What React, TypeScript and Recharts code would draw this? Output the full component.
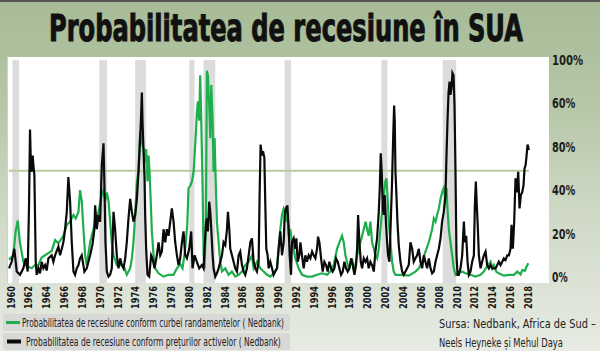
import React from "react";
import { LineChart, Line, XAxis, YAxis, ReferenceArea, ReferenceLine } from "recharts";

const titleText = "Probabilitatea de recesiune în SUA";

const yieldCurveYears = [
  1959.78, 1960.26, 1960.52, 1960.75, 1961.0, 1961.38, 1961.76, 1962.32, 1962.69, 1963.07,
  1963.44, 1963.82, 1964.19, 1964.56, 1964.94, 1965.31, 1965.87, 1966.25, 1966.62, 1967.0,
  1967.26, 1967.56, 1967.74, 1967.93, 1968.12, 1968.31, 1968.49, 1968.87, 1969.24, 1969.43,
  1969.8, 1970.18, 1970.37, 1970.55, 1970.74, 1970.93, 1971.11, 1971.3, 1971.49, 1971.86,
  1972.24, 1972.61, 1972.98, 1973.36, 1973.55, 1973.73, 1973.92, 1974.11, 1974.29, 1974.48,
  1974.67, 1974.85, 1975.04, 1975.15, 1975.3, 1975.42, 1975.53, 1975.68, 1975.79, 1975.98,
  1976.16, 1976.54, 1977.1, 1977.66, 1978.22, 1978.6, 1978.97, 1979.23, 1979.5, 1979.76,
  1979.9, 1980.09, 1980.28, 1980.47, 1980.58, 1980.73, 1980.84, 1980.95, 1981.1, 1981.21,
  1981.33, 1981.48, 1981.59, 1981.7, 1981.85, 1981.96, 1982.07, 1982.22, 1982.34, 1982.45,
  1982.6, 1982.71, 1982.82, 1982.97, 1983.08, 1983.27, 1983.46, 1983.65, 1984.02, 1984.39,
  1984.77, 1985.14, 1985.52, 1985.89, 1986.26, 1986.64, 1987.01, 1987.2, 1987.39, 1987.57,
  1987.95, 1988.32, 1988.7, 1989.07, 1989.44, 1989.82, 1990.0, 1990.19, 1990.38, 1990.57,
  1990.75, 1990.86, 1990.98, 1991.13, 1991.31, 1991.5, 1991.69, 1991.87, 1992.25, 1992.62,
  1993.18, 1993.75, 1994.31, 1994.87, 1995.43, 1995.8, 1996.18, 1996.55, 1996.81, 1997.11,
  1997.3, 1997.49, 1997.67, 1997.86, 1998.05, 1998.23, 1998.42, 1998.61, 1998.8, 1998.98,
  1999.17, 1999.36, 1999.54, 1999.75, 1999.92, 2000.1, 2000.29, 2000.48, 2000.67, 2000.85,
  2001.04, 2001.23, 2001.41, 2001.6, 2001.79, 2001.97, 2002.09, 2002.2, 2002.35, 2002.54,
  2002.72, 2002.91, 2003.1, 2003.84, 2004.59, 2005.34, 2005.72, 2006.09, 2006.46, 2006.84,
  2007.21, 2007.4, 2007.59, 2007.77, 2007.96, 2008.15, 2008.33, 2008.52, 2008.71, 2008.82,
  2008.93, 2009.08, 2009.27, 2009.46, 2009.64, 2009.83, 2010.58, 2010.95, 2011.51, 2012.07,
  2012.64, 2013.01, 2013.38, 2013.76, 2013.95, 2014.13, 2014.39, 2014.69, 2015.25, 2015.82,
  2016.38, 2016.75, 2017.13, 2017.31, 2017.61, 2017.8, 2017.99,
];
const yieldCurveValues = [
  8, 10, 21, 26, 16, 7, 5, 4, 5.5, 5.5,
  9, 10, 11, 12, 17, 15.5, 19, 24, 25.5, 28.6,
  27, 30, 40, 35, 22, 10, 5.5, 16, 22, 25.5,
  30, 38, 40, 35, 39, 35, 25.5, 16, 10, 5.5,
  5.5, 5.5, 1, 4, 8.6, 16, 28.6, 44, 48.5, 67,
  62, 59, 53, 59, 44, 56, 48.5, 33, 21, 10,
  4, 1.7, 0.2, 1, 1, 4, 6, 4, 12, 24,
  41, 42, 44, 48.5, 56, 67, 76, 81, 72, 93,
  72, 41, 10, 4, 25.5, 95, 93, 79, 64, 88.5,
  72, 48.5, 64, 41, 25.5, 16, 7, 2.5, 4, 1,
  2.5, 0.2, 1, 2.5, 5.5, 7, 10, 4, 5.5, 7,
  4, 2.5, 1, 0.2, 1.7, 4, 13, 22, 28.6, 31.6,
  30, 25.5, 30, 19, 22, 16, 13, 8.6, 4, 1,
  0.2, 0.2, 1, 1.7, 1, 2.5, 5.5, 13, 16, 19,
  16, 10, 7, 4, 5.5, 8.6, 4, 5.5, 10, 13,
  16, 19, 22, 25.5, 22, 19, 25.5, 16, 13, 10,
  8.6, 13, 22, 30, 38, 44, 45.5, 38, 25.5, 16,
  7, 2.5, 1, 1, 0.6, 2.5, 4, 7, 11.7, 16,
  22, 27, 25.5, 28.6, 31.6, 36, 39, 41, 36, 41,
  31.6, 22, 16, 10, 4, 1, 2.5, 1.7, 1, 0.2,
  1, 2.5, 5, 7, 4, 5.5, 2.5, 1.7, 0.6, 1,
  1, 2.5, 1.2, 3.2, 2.8, 4.8, 6.3,
];

const assetPriceYears = [
  1959.78, 1960.07, 1960.37, 1960.64, 1961.01, 1961.38, 1961.65, 1961.87, 1962.02, 1962.13,
  1962.24, 1962.32, 1962.43, 1962.51, 1962.62, 1962.77, 1962.88, 1963.07, 1963.25, 1963.44,
  1963.63, 1963.82, 1964.0, 1964.19, 1964.56, 1964.75, 1964.94, 1965.13, 1965.31, 1965.5,
  1965.69, 1965.87, 1966.06, 1966.25, 1966.43, 1966.62, 1966.81, 1967.0, 1967.18, 1967.37,
  1967.56, 1967.74, 1967.93, 1968.23, 1968.49, 1968.68, 1968.87, 1969.13, 1969.35, 1969.43,
  1969.62, 1969.8, 1969.99, 1970.18, 1970.37, 1970.48, 1970.59, 1970.74, 1970.93, 1971.11,
  1971.3, 1971.49, 1971.67, 1971.86, 1972.05, 1972.24, 1972.42, 1972.61, 1972.8, 1972.98,
  1973.17, 1973.36, 1973.55, 1973.73, 1973.92, 1974.11, 1974.29, 1974.44, 1974.56, 1974.67,
  1974.74, 1974.85, 1974.97, 1975.04, 1975.15, 1975.3, 1975.49, 1975.71, 1975.86, 1976.09,
  1976.35, 1976.54, 1976.73, 1976.91, 1977.1, 1977.29, 1977.47, 1977.66, 1977.85, 1978.03,
  1978.22, 1978.41, 1978.6, 1978.78, 1978.97, 1979.16, 1979.34, 1979.53, 1979.72, 1979.98,
  1980.2, 1980.35, 1980.58, 1980.84, 1981.1, 1981.4, 1981.59, 1981.7, 1981.85, 1981.96,
  1982.07, 1982.22, 1982.34, 1982.45, 1982.6, 1982.71, 1982.9, 1983.08, 1983.27, 1983.46,
  1983.65, 1983.83, 1984.02, 1984.21, 1984.32, 1984.47, 1984.58, 1984.77, 1984.95, 1985.14,
  1985.33, 1985.52, 1985.7, 1985.89, 1986.08, 1986.26, 1986.45, 1986.64, 1986.83, 1987.01,
  1987.2, 1987.39, 1987.57, 1987.76, 1987.87, 1987.98, 1988.13, 1988.25, 1988.4, 1988.51,
  1988.62, 1988.77, 1988.88, 1989.07, 1989.26, 1989.44, 1989.63, 1989.82, 1990.0, 1990.19,
  1990.38, 1990.57, 1990.68, 1990.83, 1990.98, 1991.13, 1991.24, 1991.39, 1991.5, 1991.69,
  1991.87, 1991.99, 1992.14, 1992.32, 1992.44, 1992.62, 1992.81, 1993.0, 1993.18, 1993.37,
  1993.56, 1993.75, 1993.93, 1994.12, 1994.31, 1994.42, 1994.57, 1994.76, 1994.94, 1995.13,
  1995.32, 1995.5, 1995.69, 1995.88, 1996.06, 1996.25, 1996.44, 1996.63, 1996.81, 1997.0,
  1997.19, 1997.37, 1997.56, 1997.75, 1997.94, 1998.12, 1998.31, 1998.5, 1998.68, 1998.8,
  1998.91, 1999.06, 1999.21, 1999.36, 1999.54, 1999.73, 1999.92, 2000.1, 2000.29, 2000.48,
  2000.67, 2000.85, 2001.04, 2001.23, 2001.34, 2001.45, 2001.56, 2001.68, 2001.79, 2001.9,
  2002.05, 2002.16, 2002.27, 2002.42, 2002.57, 2002.72, 2002.84, 2002.95, 2003.02, 2003.1,
  2003.21, 2003.32, 2003.47, 2003.66, 2003.85, 2004.03, 2004.22, 2004.41, 2004.59, 2004.78,
  2004.97, 2005.15, 2005.34, 2005.53, 2005.72, 2005.9, 2006.09, 2006.28, 2006.46, 2006.65,
  2006.84, 2007.03, 2007.21, 2007.4, 2007.59, 2007.77, 2007.96, 2008.15, 2008.33, 2008.52,
  2008.71, 2008.82, 2008.93, 2009.05, 2009.16, 2009.27, 2009.38, 2009.49, 2009.61, 2009.72,
  2009.83, 2009.94, 2010.06, 2010.2, 2010.39, 2010.58, 2010.77, 2010.88, 2011.03, 2011.18,
  2011.33, 2011.51, 2011.7, 2011.89, 2012.0, 2012.11, 2012.22, 2012.34, 2012.45, 2012.64,
  2012.82, 2013.01, 2013.2, 2013.38, 2013.57, 2013.76, 2013.95, 2014.32, 2014.51, 2014.69,
  2014.88, 2015.07, 2015.25, 2015.44, 2015.63, 2015.82, 2016.0, 2016.11, 2016.26, 2016.41,
  2016.56, 2016.71, 2016.86, 2017.01, 2017.16, 2017.31, 2017.46, 2017.57, 2017.69, 2017.8,
  2017.91, 2018.06,
];
const assetPriceValues = [
  4, 7, 13, 2.5, 1, 4, 8.6, 2.5, 33, 68,
  50, 48.5, 56, 51.6, 47, 7, 1, 4, 1.7, 7,
  4, 5.5, 3, 8.6, 10, 7, 10, 12, 14, 10,
  13, 16, 22, 30, 46, 35, 16, 2.5, 1, 4,
  5.5, 8.6, 10, 2.5, 4, 7, 10, 15, 22, 33,
  22, 28.6, 25.5, 51.6, 61.6, 41, 16, 2.5, 0.2, 1,
  4, 30, 22, 10, 4, 8.6, 5.5, 4, 8.6, 16,
  27, 36, 30, 25.5, 28.6, 36, 48.5, 61, 71.6, 85,
  71.6, 59, 45.5, 28.6, 13, 1, 0.2, 10, 8.6, 4,
  10, 16, 10, 11.7, 22, 16, 22, 19, 25.5, 31.6,
  25.5, 16, 10, 5.5, 8.6, 16, 21, 10, 8.6, 13,
  21, 4, 10, 7, 4, 5.5, 4, 13, 24, 27,
  21, 34.7, 30, 22, 10, 4, 0.2, 1.7, 4, 7,
  10, 16, 14.7, 22, 30, 22, 13, 10, 7, 4,
  2.5, 10, 11.7, 5.5, 2.5, 1, 4, 10, 16, 17.8,
  7, 4, 2.5, 7, 38, 61, 56, 58, 55, 33,
  13, 10, 4, 7, 4, 1, 2.5, 4, 13, 21,
  10, 16, 28.6, 31.6, 33, 22, 10, 1, 16, 17.8,
  13, 17.8, 7, 10, 16, 10, 4, 10, 7, 10,
  8.6, 11.7, 10, 8.6, 13, 18.6, 16, 8.6, 2.5, 7,
  5.5, 2.5, 7, 4, 2.5, 4, 8.6, 7, 4, 1,
  2.5, 7, 4, 2.5, 4, 8.6, 5.5, 1, 5.5, 13,
  28.6, 16, 7, 4, 8.6, 7, 8.6, 4, 7, 5.5,
  2.5, 11.7, 17.8, 30, 41, 57, 48.5, 31.6, 28.6, 37.8,
  24, 16, 10, 7, 25.5, 44, 64, 79, 71.6, 48.5,
  37.8, 25.5, 14.7, 7, 2.5, 1, 2.5, 4, 5.5, 16,
  13, 7, 8.6, 10, 13, 7, 4, 10, 7, 4,
  8.6, 4, 1.7, 2.5, 7, 10, 13, 17.8, 25.5, 30,
  37.8, 56, 71.6, 85, 90, 84, 87, 94, 93, 79,
  48.5, 10, 1, 1, 4, 10, 25.5, 16, 19, 7,
  1, 2.5, 7, 10, 33, 44, 33, 22, 10, 4,
  7, 10, 11.7, 5.5, 4, 5.5, 4, 4, 5.5, 7,
  5.5, 7, 8.6, 7.8, 10, 10, 13, 24, 13, 25.5,
  45.5, 39, 48.5, 31.6, 37.8, 39, 42.4, 50, 51.6, 56,
  61, 58.5,
];

const recessionStarts = [1960.15, 1969.9, 1973.92, 1979.98, 1981.58, 1990.67, 2001.53, 2008.4];
const recessionEnds = [1960.9, 1970.77, 1975.12, 1980.57, 1982.9, 1991.4, 2002.2, 2009.9];

const xTickYears = [
  1960, 1962, 1964, 1966, 1968, 1970, 1972, 1974, 1976, 1978,
  1980, 1982, 1984, 1986, 1988, 1990, 1992, 1994, 1996, 1998,
  2000, 2002, 2004, 2006, 2008, 2010, 2012, 2014, 2016, 2018,
];
const yTickValues = [0, 20, 40, 60, 80, 100];
const yTickLabels = ["0%", "20%", "40%", "80%", "60%", "100%"];
const thresholdValue = 49;
const thresholdStart = 1959.75;
const thresholdEnd = 2018.05;

const legendLabels = [
  "Probabilitatea de recesiune conform curbei randamentelor ( Nedbank)",
  "Probabilitatea de recesiune conform prețurilor activelor ( Nedbank)",
];
const sourceLines = ["Sursa: Nedbank, Africa de Sud –", "Neels Heyneke și Mehul Daya"];

const GREEN = "#1fae4c";
const BLACK = "#0a0a0a";
const CONDENSED = "'DejaVu Sans Condensed', 'DejaVu Sans', sans-serif";
const NARROW = "'Liberation Sans Narrow', 'DejaVu Sans Condensed', sans-serif";

const yieldCurveData = yieldCurveYears.map((year, i) => ({ year, value: yieldCurveValues[i] }));
const assetPriceData = assetPriceYears.map((year, i) => ({ year, value: assetPriceValues[i] }));

// Text squeezed horizontally (via a real transform) to a target width
const FitText = (props: any) => {
  const { x, y, width, children, ...rest } = props;
  const ref = React.useRef<SVGTextElement | null>(null);
  const [scale, setScale] = React.useState(1);
  React.useLayoutEffect(() => {
    const el = ref.current;
    if (el) {
      const w = el.getComputedTextLength();
      if (w > 0) setScale(width / w);
    }
  }, [width]);
  return (
    <text ref={ref} x={0} y={0} transform={`translate(${x} ${y}) scale(${scale} 1)`} {...rest}>
      {children}
    </text>
  );
};

const XTick = (props: any) => {
  const { x, payload } = props;
  const y = 286;
  return (
    <text
      x={x}
      y={y}
      transform={`rotate(-90 ${x} ${y})`}
      textAnchor="end"
      dominantBaseline="central"
      fontFamily={CONDENSED}
      fontWeight="bold"
      fontSize={10}
      textLength={23}
      lengthAdjust="spacingAndGlyphs"
      fill="#1a1a1a"
    >
      {payload.value}
    </text>
  );
};

const YTick = (props: any) => {
  const { y, payload } = props;
  const idx = yTickValues.indexOf(payload.value);
  const label = idx >= 0 ? yTickLabels[idx] : "";
  return (
    <text
      x={552}
      y={y}
      textAnchor="start"
      dominantBaseline="central"
      fontFamily={CONDENSED}
      fontWeight="bold"
      fontSize={14}
      textLength={label.length * 7.8}
      lengthAdjust="spacingAndGlyphs"
      fill="#1c1c1c"
    >
      {label}
    </text>
  );
};

export default function App() {
  return (
    <div
      style={{
        position: "relative",
        width: 600,
        height: 351,
        overflow: "hidden",
        background: "linear-gradient(180deg, #a6bb96 0%, #b6c7a8 30%, #d2dbc9 65%, #e7ebe3 100%)",
      }}
    >
      <style>{`body{margin:0}`}</style>
      <div style={{ position: "absolute", left: 0, top: 0, width: 600, height: 2, background: "#555" }} />
      <div
        style={{
          position: "absolute",
          left: 7,
          top: 57,
          width: 541,
          height: 226,
          background: "#ffffff",
          borderLeft: "1px solid #d0d0d0",
        }}
      />
      <svg width={600} height={351} style={{ position: "absolute", left: 0, top: 0 }}>
        <FitText
          x={49}
          y={41}
          width={474}
          fontFamily={CONDENSED}
          fontWeight="bold"
          fontSize={37}
          fill="#111"
          stroke="#111"
          strokeWidth={1}
        >
          {titleText}
        </FitText>
        <rect x={3} y={314} width={287} height={17} rx={2} fill="#d8d8d6" />
        <rect x={3} y={333} width={287} height={17} rx={2} fill="#d8d8d6" />
        <line x1={6} y1={322.5} x2={20} y2={322.5} stroke={GREEN} strokeWidth={3} />
        <line x1={7} y1={341.5} x2={21} y2={341.5} stroke={BLACK} strokeWidth={4} />
        <FitText x={22} y={326.5} width={262} fontFamily={NARROW} fontSize={11.5} fill="#222">
          {legendLabels[0]}
        </FitText>
        <FitText x={26} y={345.5} width={255} fontFamily={NARROW} fontSize={11.5} fill="#222">
          {legendLabels[1]}
        </FitText>
        <FitText x={439} y={328} width={157} fontFamily={NARROW} fontSize={13} fill="#222">
          {sourceLines[0]}
        </FitText>
        <FitText x={439} y={347} width={124} fontFamily={NARROW} fontSize={13} fill="#222">
          {sourceLines[1]}
        </FitText>
      </svg>
      <div style={{ position: "absolute", left: 0, top: 0 }}>
        <LineChart width={600} height={351} margin={{ top: 60, right: 0, bottom: 28, left: 7 }}>
          <XAxis
            type="number"
            dataKey="year"
            domain={[1959.55, 2020.2]}
            allowDataOverflow
            ticks={xTickYears}
            interval={0}
            height={40}
            axisLine={false}
            tickLine={false}
            tick={(p: any) => <XTick {...p} />}
          />
          <YAxis
            orientation="right"
            type="number"
            domain={[-2.77, 100]}
            allowDataOverflow
            ticks={yTickValues}
            interval={0}
            width={52}
            axisLine={false}
            tickLine={false}
            tick={(p: any) => <YTick {...p} />}
          />
          {recessionStarts.map((s, i) => (
            <ReferenceArea
              key={i}
              x1={s}
              x2={recessionEnds[i]}
              fill="#dcdcdc"
              fillOpacity={1}
              stroke="none"
            />
          ))}
          <ReferenceLine
            segment={[
              { x: thresholdStart, y: thresholdValue },
              { x: thresholdEnd, y: thresholdValue },
            ]}
            stroke="#b6ca9c"
            strokeWidth={2}
          />
          <Line
            data={yieldCurveData}
            dataKey="value"
            type="linear"
            stroke={GREEN}
            strokeWidth={2.2}
            dot={false}
            isAnimationActive={false}
          />
          <Line
            data={assetPriceData}
            dataKey="value"
            type="linear"
            stroke={BLACK}
            strokeWidth={2.2}
            dot={false}
            isAnimationActive={false}
          />
        </LineChart>
      </div>
    </div>
  );
}
